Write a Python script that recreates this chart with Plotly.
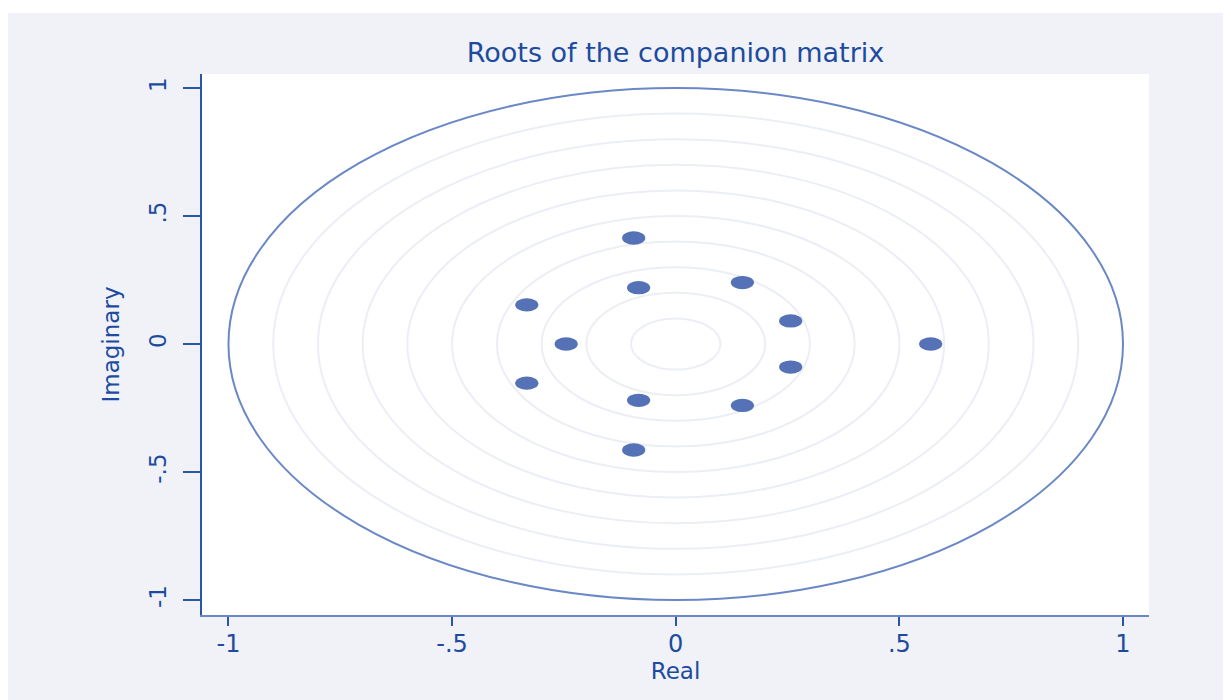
import plotly.graph_objects as go

# Data: eigenvalues (roots of the companion matrix)
root_real = [-0.094, -0.094, -0.083, -0.083, 0.149, 0.149, 0.257, 0.257, -0.333, -0.333, -0.245, 0.570]
root_imag = [0.414, -0.414, 0.220, -0.220, 0.240, -0.240, 0.090, -0.090, 0.153, -0.153, 0.0, 0.0]

grid_radii = [0.1, 0.2, 0.3, 0.4, 0.5, 0.6, 0.7, 0.8, 0.9]
unit_radius = 1.0

tick_vals = [-1, -0.5, 0, 0.5, 1]
tick_text = ["-1", "-.5", "0", ".5", "1"]

TEXT = "#1c4ba0"
AXIS = "#2a56a8"
MARK = "#5672b6"
UNIT = "#6a88c6"
GRID = "#eceef6"
BG = "#f0f2f8"

W, H = 1231, 700
L, R, T, B = 194, 90, 66, 93
pw, ph = W - L - R, H - T - B

shapes = []
for r in grid_radii:
    shapes.append(dict(type="circle", xref="x", yref="y", x0=-r, x1=r, y0=-r, y1=r,
                       line=dict(color=GRID, width=2), layer="below"))
shapes.append(dict(type="circle", xref="x", yref="y", x0=-unit_radius, x1=unit_radius,
                   y0=-unit_radius, y1=unit_radius, line=dict(color=UNIT, width=2), layer="below"))
mr = 0.026
for xr, yi in zip(root_real, root_imag):
    shapes.append(dict(type="circle", xref="x", yref="y", x0=xr - mr, x1=xr + mr,
                       y0=yi - mr, y1=yi + mr, line=dict(width=0), fillcolor=MARK, layer="below"))

# thin white strip at the top of the page
shapes.append(dict(type="rect", xref="paper", yref="paper", x0=-L / pw, x1=(W - L) / pw,
                   y0=(ph + T - 5) / ph, y1=(ph + T) / ph, fillcolor="white", line=dict(width=0), layer="below"))

fig = go.Figure()
fig.add_trace(go.Scatter(x=root_real, y=root_imag, mode="markers",
                         marker=dict(color=MARK, size=12, line=dict(width=0)),
                         showlegend=False, hoverinfo="x+y"))

fig.update_layout(
    width=W, height=H,
    margin=dict(l=L, r=R, t=T, b=B, autoexpand=False),
    paper_bgcolor=BG, plot_bgcolor="white",
    shapes=shapes,
    title=dict(text="Roots of the companion matrix", x=(L + pw / 2) / W, xanchor="center",
               y=1 - 45 / H, yanchor="middle", yref="container",
               font=dict(family="DejaVu Sans", size=27, color=TEXT)),
    font=dict(family="DejaVu Sans", color=TEXT),
)
fig.update_xaxes(range=[-1.0592, 1.0581], tickvals=tick_vals, ticktext=tick_text,
                 showgrid=False, zeroline=False, showline=True, linecolor=UNIT, linewidth=2,
                 ticks="outside", ticklen=9, tickwidth=2, tickcolor=AXIS,
                 tickfont=dict(family="DejaVu Sans", size=24, color=TEXT), ticklabelstandoff=-3,
                 title=dict(text="Real", standoff=1, font=dict(family="DejaVu Sans", size=23, color=TEXT)))
fig.update_yaxes(range=[-1.0586, 1.0547], tickvals=tick_vals, ticktext=tick_text, tickangle=-90,
                 showgrid=False, zeroline=False, showline=True, linecolor=AXIS, linewidth=2,
                 ticks="outside", ticklen=17, tickwidth=1.5, tickcolor=AXIS,
                 tickfont=dict(family="DejaVu Sans", size=23, color=TEXT), ticklabelstandoff=8,
                 title=dict(text="Imaginary", standoff=19, font=dict(family="DejaVu Sans", size=23, color=TEXT)))

fig.write_html("out.html")
